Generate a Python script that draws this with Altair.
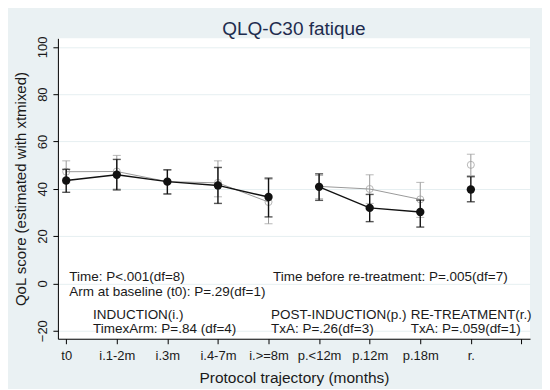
import altair as alt
import pandas as pd

categories = ["t0", "i.1-2m", "i.3m", "i.4-7m", "i.>=8m", "p.<12m", "p.12m", "p.18m", "r."]
segments = ["induction"] * 5 + ["post"] * 3 + ["retreat"]

black_mean = [43.5, 45.9, 43.0, 41.4, 36.5, 40.8, 31.9, 30.2, 39.7]
black_lo = [38.5, 39.5, 37.8, 33.8, 28.1, 35.1, 26.1, 23.8, 34.5]
black_hi = [48.2, 52.4, 48.0, 49.0, 44.5, 46.3, 37.6, 35.2, 45.1]

gray_mean = [47.2, 47.3, 43.0, 42.5, 34.4, 41.0, 39.9, 35.5, 50.1]
gray_lo = [42.5, 39.9, 37.8, 36.6, 25.2, 35.8, 33.8, 27.9, 45.6]
gray_hi = [51.8, 54.1, 48.0, 51.8, 44.0, 45.6, 45.9, 42.7, 54.6]

ann_text = [
    "Time: P<.001(df=8)",
    "Arm at baseline (t0): P=.29(df=1)",
    "Time before re-treatment: P=.005(df=7)",
    "INDUCTION(i.)",
    "TimexArm: P=.84 (df=4)",
    "POST-INDUCTION(p.)",
    "TxA: P=.26(df=3)",
    "RE-TREATMENT(r.)",
    "TxA: P=.059(df=1)",
]
ann_x = [1.06, 1.06, 5.09, 1.53, 1.53, 5.05, 5.05, 7.81, 7.81]
ann_y = [2.7, -3.5, 2.6, -13.3, -19.3, -13.3, -19.3, -13.3, -19.3]

FONT = "Liberation Sans"
XDOM = [0.836, 10.17]
YDOM = [-23.4, 103.6]

rows = []
for arm, m, lo, hi in [("gray", gray_mean, gray_lo, gray_hi), ("black", black_mean, black_lo, black_hi)]:
    for i, c in enumerate(categories):
        rows.append(dict(arm=arm, pos=i + 1, cat=c, seg=segments[i], mean=m[i], lo=lo[i], hi=hi[i]))
df = pd.DataFrame(rows)
ann = pd.DataFrame(dict(text=ann_text, x=ann_x, y=ann_y))

label_map = "{" + ",".join(f"'{i+1}':'{c}'" for i, c in enumerate(categories)) + "}"

xscale = alt.Scale(domain=XDOM, nice=False, zero=False)
yscale = alt.Scale(domain=YDOM, nice=False, zero=False)

xenc = alt.X("pos:Q", scale=xscale,
             axis=alt.Axis(values=list(range(1, 11)), labelExpr=f"{label_map}[datum.value] || ''",
                           title="Protocol trajectory (months)", grid=False, domainColor="black",
                           tickColor="black", tickSize=5, labelFontSize=13, labelFont=FONT,
                           labelColor="#1a1a1a", titleFont=FONT, titleFontSize=15.5, titleFontWeight="normal",
                           titleColor="#1a1a1a", labelPadding=6, titlePadding=8, labelFlush=False))
yenc_axis = alt.Axis(values=[-20, 0, 20, 40, 60, 80, 100], title="QoL score (estimated with xtmixed)",
                     grid=True, gridColor="#e6eff1", domainColor="black", tickColor="black",
                     tickSize=5, labelAngle=270, labelAlign="center", labelBaseline="bottom",
                     labelFontSize=13, labelFont=FONT, labelColor="#1a1a1a", labelPadding=3,
                     titleFont=FONT, titleFontSize=15, titleFontWeight="normal", titleColor="#1a1a1a",
                     titlePadding=8)

base = alt.Chart(df)

layers = []
for arm, col, lw in [("gray", "#9a9a9a", 1.0), ("black", "#111111", 1.4)]:
    b = base.transform_filter(alt.datum.arm == arm)
    line = b.mark_line(color=col, strokeWidth=lw).encode(
        x=xenc, y=alt.Y("mean:Q", scale=yscale, axis=yenc_axis), detail="seg:N", order="pos:Q")
    rule = b.mark_rule(color=col, strokeWidth=lw).encode(x="pos:Q", y="lo:Q", y2="hi:Q")
    cap_lo = b.mark_tick(color=col, orient="horizontal", size=8, thickness=lw).encode(x="pos:Q", y="lo:Q")
    cap_hi = b.mark_tick(color=col, orient="horizontal", size=8, thickness=lw).encode(x="pos:Q", y="hi:Q")
    if arm == "gray":
        pts = b.mark_point(shape="circle", filled=False, color=col, size=50, strokeWidth=1).encode(x="pos:Q", y="mean:Q")
    else:
        pts = b.mark_point(shape="circle", filled=True, color=col, size=70, opacity=1).encode(x="pos:Q", y="mean:Q")
    layers += [line, rule, cap_lo, cap_hi, pts]

text = alt.Chart(ann).mark_text(align="left", baseline="middle", font=FONT, fontSize=13.5, color="#1a1a1a").encode(
    x=alt.X("x:Q", scale=xscale), y=alt.Y("y:Q", scale=yscale), text="text:N")
layers.append(text)

chart = alt.layer(*layers).properties(
    width=473, height=301,
    title=alt.TitleParams("QLQ-C30 fatique", font=FONT, fontSize=19, fontWeight="normal",
                          color="#1e2c4e", anchor="middle", offset=0, dy=3),
    background="#eaf1f3",
    padding={"left": 50, "top": 30, "right": 12, "bottom": 50},
    autosize=alt.AutoSizeParams(type="none"),
).configure_view(fill="white", stroke=None)

chart.save("out.html", embed_options={"renderer": "svg", "actions": False})
